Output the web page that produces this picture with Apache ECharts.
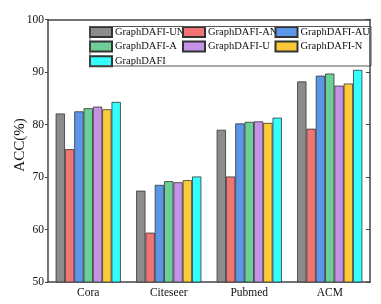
<!DOCTYPE html>
<html><head><meta charset="utf-8">
<script src="https://cdn.jsdelivr.net/npm/echarts@6/dist/echarts.min.js"></script>
<style>html,body{margin:0;padding:0;background:#fff}#c{width:381px;height:304px}</style>
</head><body><div id="c"></div>
<script>
const categories = ['Cora', 'Citeseer', 'Pubmed', 'ACM'];
const seriesNames = ['GraphDAFI-UN', 'GraphDAFI-AN', 'GraphDAFI-AU', 'GraphDAFI-A', 'GraphDAFI-U', 'GraphDAFI-N', 'GraphDAFI'];
const valUN = [82.1, 67.4, 79.0, 88.2];
const valAN = [75.3, 59.4, 70.1, 79.2];
const valAU = [82.5, 68.5, 80.2, 89.3];
const valA = [83.1, 69.2, 80.5, 89.7];
const valU = [83.4, 69.0, 80.6, 87.4];
const valN = [82.9, 69.4, 80.3, 87.8];
const valDAFI = [84.3, 70.1, 81.3, 90.4];
const yTicks = [50, 60, 70, 80, 90, 100];

const colors = ['#8c8c8c', '#f07474', '#5b96e8', '#6dcf98', '#c493e6', '#fec938', '#33ffff'];
const allVals = [valUN, valAN, valAU, valA, valU, valN, valDAFI];
const font = 'Liberation Serif, Times New Roman, serif';

const series = seriesNames.map((n, i) => ({
  name: n, type: 'bar', data: allVals[i],
  barGap: '0%', barCategoryGap: '19%',
  itemStyle: { color: colors[i], borderColor: '#333', borderWidth: 0.8 },
  xAxisIndex: 0, yAxisIndex: 0
}));

function legendCol(left, names) {
  return {
    orient: 'vertical', left: left, top: 26, padding: 0,
    itemWidth: 22, itemHeight: 10, itemGap: 2.6, icon: 'rect',
    data: names,
    textStyle: { fontFamily: font, fontSize: 10.5, color: '#111', padding: [1, 0, 0, -2] },
    selectedMode: false
  };
}

const chart = echarts.init(document.getElementById('c'));
chart.setOption({
  animation: false,
  grid: { left: 48, right: 11, top: 19.5, bottom: 22 },
  legend: [
    legendCol(89, ['GraphDAFI-UN', 'GraphDAFI-A', 'GraphDAFI']),
    legendCol(182, ['GraphDAFI-AN', 'GraphDAFI-U']),
    legendCol(274.5, ['GraphDAFI-AU', 'GraphDAFI-N'])
  ],
  graphic: [{
    type: 'rect', left: 87.5, top: 24, z: 100, silent: true,
    shape: { width: 281, height: 39.5 },
    style: { fill: 'none', stroke: '#555', lineWidth: 1 }
  }, {
    type: 'text', x: 20, y: 145, rotation: Math.PI / 2, silent: true,
    style: { text: 'ACC(%)', fontFamily: font, fontSize: 15, fill: '#111',
      align: 'center', verticalAlign: 'middle' }
  }],
  xAxis: [{
    type: 'category', data: categories, position: 'bottom',
    axisLine: { lineStyle: { color: '#444', width: 1.5 } },
    axisTick: { inside: true, alignWithLabel: true, length: 4, lineStyle: { color: '#444' } },
    axisLabel: { fontFamily: font, fontSize: 11.5, color: '#111', margin: 5 }
  }, {
    type: 'category', data: categories, position: 'top',
    axisLine: { lineStyle: { color: '#444', width: 1.5 } },
    axisTick: { inside: true, alignWithLabel: true, length: 4, lineStyle: { color: '#444' } },
    axisLabel: { show: false }
  }],
  yAxis: [{
    type: 'value', min: 50, max: 100, interval: 10,
    axisLine: { show: true, lineStyle: { color: '#444', width: 1.5 } },
    axisTick: { show: true, inside: false, length: 3, lineStyle: { color: '#444' } },
    axisLabel: { fontFamily: font, fontSize: 11.5, color: '#111', margin: 4,
      formatter: v => yTicks.includes(v) ? String(v) : '' },
    splitLine: { show: false }
  }, {
    type: 'value', min: 50, max: 100, interval: 10, position: 'right',
    axisLine: { show: true, lineStyle: { color: '#444', width: 1.5 } },
    axisTick: { show: true, inside: true, length: 4, lineStyle: { color: '#444' } },
    axisLabel: { show: false },
    splitLine: { show: false }
  }],
  series: series
});
</script>
</body></html>
